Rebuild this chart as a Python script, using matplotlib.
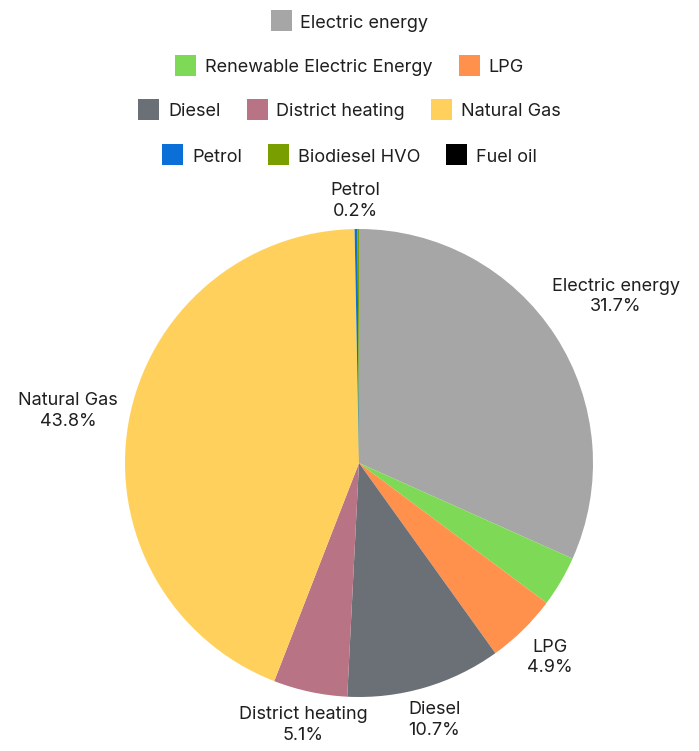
import numpy as np
import matplotlib
matplotlib.use("Agg")
import matplotlib.pyplot as plt
from matplotlib.patches import Rectangle

plt.rcParams['font.family'] = ['Inter', 'DejaVu Sans']

categories = ["Electric energy", "Renewable Electric Energy", "LPG", "Diesel",
              "District heating", "Natural Gas", "Petrol", "Biodiesel HVO", "Fuel oil"]
values = [31.7, 3.5, 4.9, 10.7, 5.1, 43.8, 0.2, 0.1, 0.0]
colors = ["#a6a6a6", "#7ed957", "#ff914d", "#6b6f76", "#b87385",
          "#ffd15c", "#0a6fd6", "#799e00", "#000000"]
show_label = [True, False, True, True, True, True, True, False, False]
legend_rows = [[0], [1, 2], [3, 4, 5], [6, 7, 8]]

W, H = 699, 751
fig = plt.figure(figsize=(W / 100, H / 100), dpi=100)
fig.patch.set_facecolor("white")

# pie geometry in pixels
cx, cy, R = 359, 463, 234
ax = fig.add_axes([(cx - R) / W, (H - cy - R) / H, 2 * R / W, 2 * R / H])
ax.pie(values, colors=colors, startangle=90, counterclock=False, radius=1,
       wedgeprops=dict(linewidth=0))
ax.set_xlim(-1, 1)
ax.set_ylim(-1, 1)
ax.set_aspect("equal")
ax.axis("off")

# overlay axes in pixel coordinates
ov = fig.add_axes([0, 0, 1, 1], facecolor="none")
ov.set_xlim(0, W)
ov.set_ylim(H, 0)
ov.axis("off")
renderer = fig.canvas.get_renderer()
fs = 13

# labels
total = sum(values)
cum = 0.0
gap = 9
for v, name, show in zip(values, categories, show_label):
    mid = (cum + v / 2) / total * 2 * np.pi
    cum += v
    if not show:
        continue
    dx, dy = np.sin(mid), -np.cos(mid)
    t = ov.text(0, 0, f"{name}\n{v:.1f}%", ha="center", va="center",
                fontsize=fs, color="#1f1f1f", linespacing=1.3, multialignment="center")
    bb = t.get_window_extent(renderer)
    w, h = bb.width, bb.height
    lo, hi = R, R + 400
    for _ in range(40):
        r = (lo + hi) / 2
        px, py = dx * r, dy * r
        nx = np.clip(0, px - w / 2, px + w / 2)
        ny = np.clip(0, py - h / 2, py + h / 2)
        d = np.hypot(nx, ny)
        if d < R + gap:
            lo = r
        else:
            hi = r
    t.set_position((cx + dx * r, cy + dy * r))

# legend
row_y = [20, 65, 109, 154]
sq = 21
tgap = 9
igap = 26
for ry, row in zip(row_y, legend_rows):
    widths = []
    texts = []
    for i in row:
        t = ov.text(0, ry, categories[i], ha="left", va="center_baseline",
                    fontsize=fs, color="#1f1f1f")
        texts.append(t)
        widths.append(t.get_window_extent(renderer).width)
    totw = sum(sq + tgap + w for w in widths) + igap * (len(row) - 1)
    x = W / 2 - totw / 2
    for i, t, w in zip(row, texts, widths):
        ov.add_patch(Rectangle((x, ry - sq / 2), sq, sq, facecolor=colors[i], edgecolor="none"))
        t.set_position((x + sq + tgap, ry + 1))
        x += sq + tgap + w + igap

fig.savefig("out.png", dpi=100, facecolor="white")
